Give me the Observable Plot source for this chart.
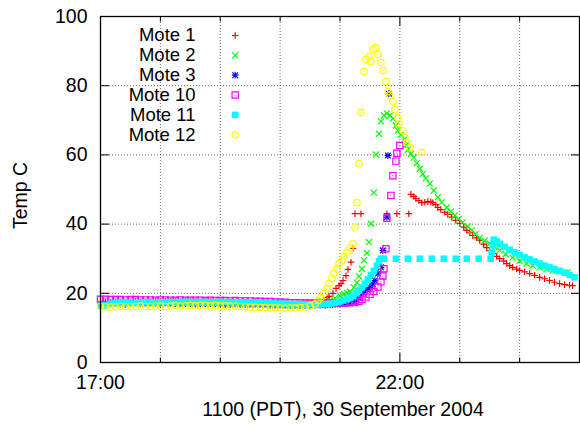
<!DOCTYPE html>
<html>
<head>
<meta charset="utf-8">
<script src="https://cdn.jsdelivr.net/npm/d3@7"></script>
<script src="https://cdn.jsdelivr.net/npm/@observablehq/plot@0.6"></script>
<style>
  html, body { margin: 0; padding: 0; background: #fff; overflow: hidden; }
  #chart { width: 580px; height: 428px; }
</style>
</head>
<body>
<div id="chart"></div>
<script>
// ---- Data (time in minutes after 17:00, temperature in °C) ----
const moteNames = ["Mote 1", "Mote 2", "Mote 3", "Mote 10", "Mote 11", "Mote 12"];

const yTicks = [0, 20, 40, 60, 80, 100];
const yGrid = [20, 40, 60, 80];
const xMajor = [0, 300];
const xLabels = ["17:00", "22:00"];
const xGrid = [60, 120, 180, 240, 300, 360, 420];
const xMinor = [60, 120, 180, 240, 360, 420];

const baseTimes = [0,5,10,15,20,25,30,35,40,45,50,55,60,65,70,75,80,85,90,95,100,105,110,115,120,125,130,135,140,145,150,155,160,165,170,175,180,185,190,195,200,205,210,215,220,225,230,235,240,245,250,255];

const mote1Base = [17.3,17.4,17.4,17.5,17.5,17.4,17.5,17.6,17.5,17.5,
  17.6,17.6,17.5,17.6,17.7,17.6,17.6,17.7,17.6,17.6,
  17.5,17.6,17.6,17.5,17.5,17.4,17.5,17.5,17.4,17.4,
  17.3,17.4,17.3,17.3,17.2,17.2,17.1,17.1,17.0,17.0,
  17.0,17.1,17.2,17.4,17.6];
const mote1Event = [[224,18.2],[227,18.8],[229,19.1],[233,20],[236,21.4],[239,22.2],[241,22.8],[243,23.7],[246,25.1],[248,26.9],[251,29],[253,33],
  [255,43],[261,43],[287,43],[297,43],[309,43],
  [311,48.6],[314,48],[316,47.4],[319,46.8],[322,46.2],[325,46.3],[328,46.5],[331,46.4],[333,46.2],[336,45.6],[338,44.8],[341,44.2],[345,43.4],[348,42.8],[352,42],[356,41.1],[360,40.2],[364,39.1],[367,38.2],[370,37.5],[373,36.7],[377,36],[380,35.3],[384,34.2],[387,33.2],[390,32.3],[393,31.5],[397,30.7],[400,30],[404,29.3],[407,28.6],[410,28],[413,27.5],[417,27],[420,26.6],[425,26.2],[430,25.7],[435,25.2],[440,24.6],[445,24.2],[450,23.7],[455,23.2],[460,22.8],[465,22.5],[470,22.3],[473,22.2]];

const mote2Base = [17.0,17.1,17.1,17.2,17.2,17.3,17.2,17.3,17.3,17.2,
  17.3,17.3,17.4,17.3,17.3,17.4,17.3,17.3,17.4,17.3,
  17.3,17.2,17.3,17.3,17.2,17.2,17.1,17.2,17.1,17.1,
  17.0,17.1,17.0,17.0,16.9,16.9,16.8,16.8,16.8,16.8,
  16.8,16.9,16.9,17.0,17.2,17.5,17.9];
const mote2Event = [[235,18.6],[240,19.3],[244,19.8],[247,20.1],[250,20.5],[254,21.7],[257,23.1],[259,24.9],[262,27.1],[264,29.5],[267,31.6],[269,34.8],[271,40.1],[274,49.1],[276,60.1],[279,66.1],[281,69.7],[284,71.4],[287,72],[290,71.4],[293,70.5],[296,68.5],[298,67],[301,65.8],[304,64.3],[306,62.8],[308,61.5],[311,60.3],[314,59.2],[317,57.6],[320,56],[323,54.5],[326,53.2],[330,51.7],[334,49.7],[338,47.8],[342,46.3],[347,44.8],[351,43.6],[355,42.5],[359,41.5],[363,40.5],[368,39.3],[372,38.2],[376,37.1],[380,36],[385,35.2],[390,34.4],[395,33.4],[400,32.4],[406,31.3],[413,30.3],[420,29.4],[427,28.6],[433,28],[440,27.5],[447,27],[453,26.6],[460,26.3],[468,26.1]];

const mote3Base = [16.7,16.8,16.8,16.9,16.9,16.8,16.9,17.0,16.9,16.9,
  17.0,17.0,16.9,17.0,17.0,17.0,16.9,17.0,17.0,16.9,
  16.9,16.9,17.0,16.9,16.9,16.8,16.8,16.9,16.8,16.8,
  16.7,16.8,16.7,16.7,16.6,16.6,16.6,16.5,16.5,16.5,
  16.5,16.5,16.5,16.6,16.6,16.6,16.7,16.8,16.9,17.0,17.2];
const mote3Event = [[255,17.6],[259,18.6],[263,20.2],[267,21],[270,21.7],[273,22.7],[275,23.7],[278,25.7],[281,27.5],[283,32.4],[287,42],[288,59.8],[289,77.7]];

const mote10Base = [18.3,18.3,18.2,18.2,18.2,18.1,18.2,18.2,18.1,18.1,
  18.1,18.0,18.1,18.1,18.0,18.0,18.1,18.0,18.0,18.0,
  18.0,17.9,18.0,17.9,17.9,17.9,17.8,17.9,17.8,17.8,
  17.8,17.7,17.7,17.6,17.6,17.5,17.4,17.4,17.3,17.3,
  17.2,17.2,17.2,17.1,17.1,17.1,17.1,17.1,17.2,17.2,17.3,17.4];
const mote10Event = [[259,17.7],[262,18.2],[266,18.9],[270,19.7],[274,20.5],[278,21.8],[281,23.3],[283,25],[284,27.1],[286,32.9],[287,41.7],[291,48.3],[293,54],[296,58.2],[297,60.5],[300,62.7]];

const mote11Base = [16.4,16.5,17.0,17.2,17.3,17.3,17.2,17.3,17.3,17.4,
  17.4,17.3,17.4,17.4,17.5,17.4,17.5,17.5,17.5,17.4,
  17.5,17.5,17.4,17.5,17.5,17.5,17.4,17.4,17.4,17.3,
  17.3,17.3,17.2,17.2,17.1,17.1,17.0,17.0,16.9,16.9,
  16.9,16.8,16.8,16.8,16.8,16.9,17.0,17.2];
const mote11Event = [[239,17.5],[243,17.9],[247,18.3],[250,18.7],[253,19.2],[256,20],[259,20.8],[262,21.7],[265,22.8],[268,24],[271,25.3],[274,26.5],[277,28],[279,29.3],[281,30],
  [284,30],[296,30],[308,30],[320,30],[332,30],[344,30],[356,30],[367,30],[379,30],[391,30],
  [392,32],[393,34],[394,35.5],[397,35],[400,34.3],[405,33.4],[410,32.6],[415,31.8],[420,31.1],[425,30.4],[430,29.8],[435,29.2],[440,28.6],[445,28],[450,27.5],[455,27],[460,26.5],[465,25.9],[470,25.3],[475,24.6]];

const mote12Base = [16.2,16.1,16.0,16.1,16.2,16.1,16.2,16.2,16.3,16.2,
  16.2,16.3,16.3,16.2,16.3,16.4,16.3,16.4,16.5,16.4,
  16.5,16.5,16.4,16.5,16.4,16.4,16.3,16.3,16.2,16.1,
  16.0,16.0,15.9,15.9,15.8,15.8,15.8,15.7,15.8,15.8,
  15.9,16.0,16.3,16.9];
const mote12Event = [[218,17.9],[221,18.8],[224,20],[227,21.4],[229,22.8],[232,24.3],[234,25.7],[237,27],[239,28.6],[242,29.5],[244,30.6],[247,31.8],[250,33],[253,34.3],[255,39.1],[257,46.2],[259,57.5],[261,72.3],[264,84.1],[266,87.6],[269,88.4],[271,87],[273,90.5],[276,91],[278,89],[281,86.7],[283,84.4],[286,81.2],[288,78.3],[290,77.2],[293,75.4],[295,73.1],[298,70.8],[299,69],[303,67],[305,65],[307,63.6],[310,62.1],[322,60.7]];

// ---- Build tables ----
function series(base, events) {
  return base.map((v, i) => ({t: baseTimes[i], v}))
    .concat(events.map(([t, v]) => ({t, v})));
}
const seriesData = [
  series(mote1Base, mote1Event),
  series(mote2Base, mote2Event),
  series(mote3Base, mote3Event),
  series(mote10Base, mote10Event),
  series(mote11Base, mote11Event),
  series(mote12Base, mote12Event)
];

// ---- Styles ----
const FONT = "'Liberation Sans', Arial, Helvetica, sans-serif";
const FS = 19.5;
const LEGEND_FS = 18.5;
const colors = ["#ff0000", "#00ff00", "#0000ff", "#ff00ff", "#00ffff", "#ffff00"];
const SW = 1.2;
const symbolLayers = [
  [{symbol: "plus", r: 2.25, stroke: true}],
  [{symbol: "times", r: 2.85, stroke: true}],
  [{symbol: "plus", r: 2.3, stroke: true}, {symbol: "times", r: 2.7, stroke: true}],
  [{symbol: "square2", r: 4.0, stroke: true}, {symbol: "circle", r: 0.6, stroke: false}],
  [{symbol: "square", r: 3.7, stroke: false}],
  [{symbol: "circle", r: 3.2, stroke: true}, {symbol: "circle", r: 0.6, stroke: false}]
];

function layerOpts(layer, color) {
  return layer.stroke
    ? {symbol: layer.symbol, r: layer.r, stroke: color, fill: "none", strokeWidth: SW}
    : {symbol: layer.symbol, r: layer.r, fill: color, stroke: "none"};
}

const marks = [];
const gridStyle = {stroke: "#6a6a6a", strokeOpacity: 1, strokeWidth: 1, strokeDasharray: "1,2"};
marks.push(Plot.gridY(yGrid, gridStyle));
marks.push(Plot.gridX(xGrid, gridStyle));

seriesData.forEach((data, k) => {
  symbolLayers[k].forEach(layer => {
    marks.push(Plot.dot(data, {x: "t", y: "v", ...layerOpts(layer, colors[k])}));
  });
});

// axes: inward ticks like gnuplot
marks.push(Plot.axisY(yTicks, {anchor: "left", tickSize: -9, tickPadding: 22, tickFormat: d => String(d), fontSize: FS, label: null, stroke: "black"}));
marks.push(Plot.axisY(yTicks, {anchor: "right", tickSize: -9, tickFormat: () => "", label: null, stroke: "black"}));
marks.push(Plot.axisX(xMajor, {anchor: "bottom", tickSize: -9, tickPadding: 22, tickFormat: d => xLabels[xMajor.indexOf(d)], fontSize: FS, label: null, stroke: "black"}));
marks.push(Plot.axisX(xMajor, {anchor: "top", tickSize: -9, tickFormat: () => "", label: null, stroke: "black"}));
marks.push(Plot.axisX(xMinor, {anchor: "bottom", tickSize: -4.5, tickFormat: () => "", label: null, stroke: "black"}));
marks.push(Plot.axisX(xMinor, {anchor: "top", tickSize: -4.5, tickFormat: () => "", label: null, stroke: "black"}));
marks.push(Plot.frame({stroke: "black", strokeWidth: 1.3}));

// axis titles
marks.push(Plot.text(["Temp C"], {frameAnchor: "left", rotate: -90, dx: -79.5, dy: 6, text: d => d, fontSize: FS, fill: "black", lineAnchor: "middle", textAnchor: "middle"}));
marks.push(Plot.text(["1100 (PDT), 30 September 2004"], {frameAnchor: "bottom", dx: 3, dy: 47, text: d => d, fontSize: FS, fill: "black", lineAnchor: "middle", textAnchor: "middle"}));

// legend (inside plot, top-left)
moteNames.forEach((name, k) => {
  const dy = 19 + k * 19.85;
  marks.push(Plot.text([name], {frameAnchor: "top-left", dx: 95, dy, text: d => d, textAnchor: "end", lineAnchor: "middle", fontSize: LEGEND_FS, fill: "black"}));
  symbolLayers[k].forEach(layer => {
    marks.push(Plot.dot([name], {frameAnchor: "top-left", dx: 134.7, dy, ...layerOpts(layer, colors[k])}));
  });
});

const chart = Plot.plot({
  width: 580,
  height: 428,
  marginLeft: 100,
  marginRight: 1,
  marginTop: 16,
  marginBottom: 66,
  x: {domain: [0, 480]},
  y: {domain: [0, 100]},
  style: {fontFamily: FONT, fontSize: FS + "px", color: "black", background: "white", overflow: "visible"},
  marks
});
document.getElementById("chart").appendChild(chart);
</script>
</body>
</html>
